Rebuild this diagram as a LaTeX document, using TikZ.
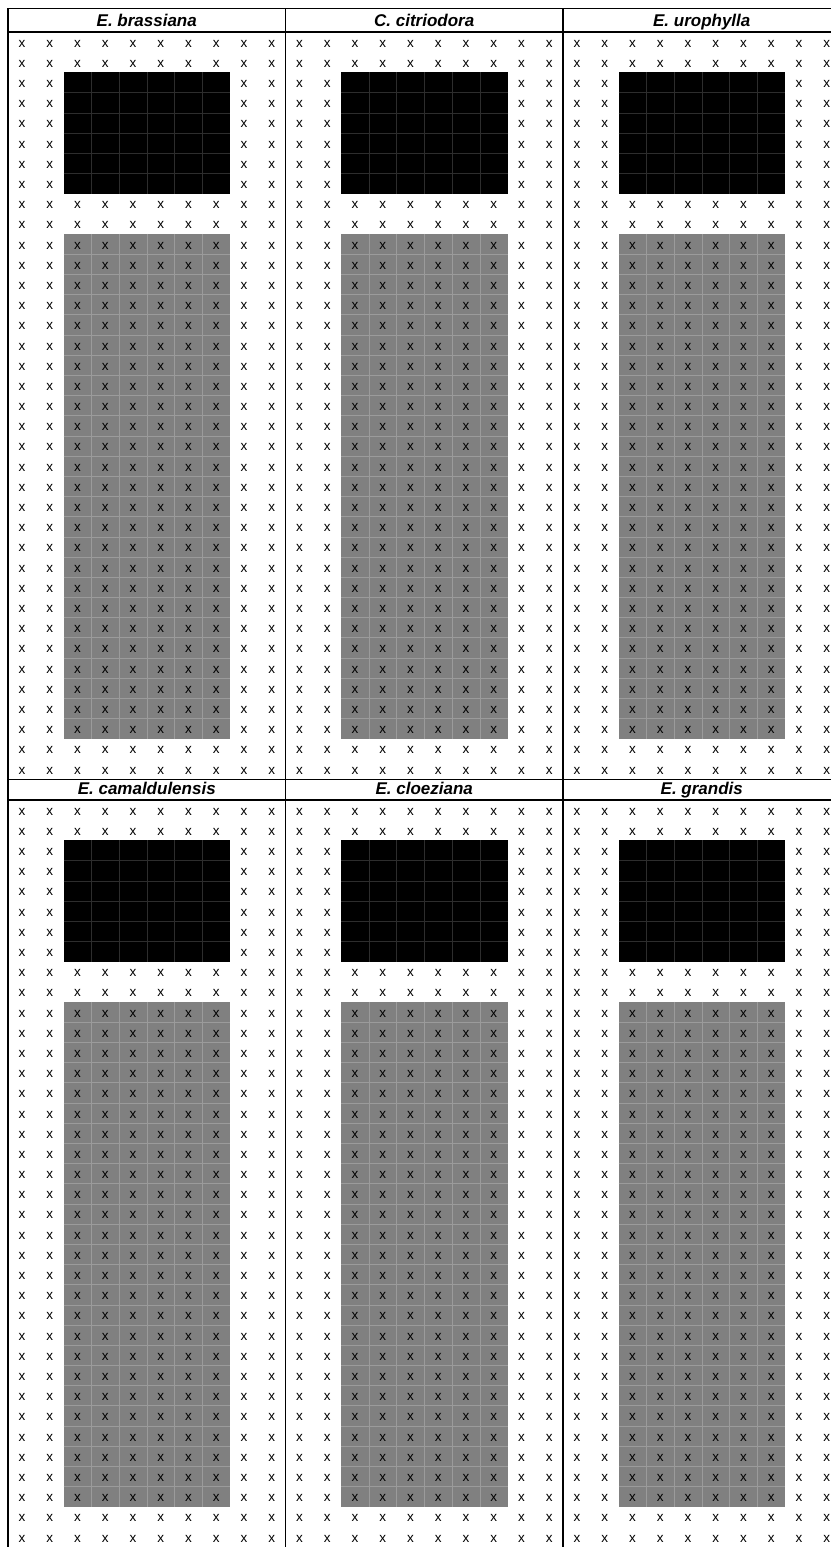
\documentclass[tikz,border=0pt]{standalone}
\usepackage{fontspec}
\setmainfont{Liberation Sans}
\begin{document}
\begin{tikzpicture}[x=1pt, y=-1pt,
    cross/.style={inner sep=0pt, font=\fontsize{13.5}{13.5}\selectfont},
    species/.style={inner sep=0pt, anchor=base, font=\fontsize{17}{17}\selectfont\bfseries\itshape},
    rule/.style={line width=1.4pt},
    darkseam/.style={line width=0.5pt, draw={rgb,255:red,45;green,45;blue,45}},
    lightseam/.style={line width=0.5pt, draw={rgb,255:red,155;green,155;blue,155}}
]
    \useasboundingbox (0,0) rectangle (830,1547);

    % panel: column i, row j, top line T, title bottom G
    \foreach \i/\j/\T/\G/\name in {0/0/8/32/E. brassiana, 1/0/8/32/C. citriodora, 2/0/8/32/E. urophylla,
                                   0/1/779/800/E. camaldulensis, 1/1/779/800/E. cloeziana, 2/1/779/800/E. grandis} {
        \pgfmathsetmacro{\L}{8+277.5*\i}

        % blocks
        \fill[black] ({\L+2*27.75}, {\G+2*20.19}) rectangle ({\L+8*27.75}, {\G+8*20.19});
        \fill[gray] ({\L+2*27.75}, {\G+10*20.19}) rectangle ({\L+8*27.75}, {\G+35*20.19});
        \foreach \k in {3,...,7} {
            \draw[darkseam] ({\L+\k*27.75}, {\G+2*20.19}) -- ({\L+\k*27.75}, {\G+8*20.19});
            \draw[lightseam] ({\L+\k*27.75}, {\G+10*20.19}) -- ({\L+\k*27.75}, {\G+35*20.19});
        }
        \foreach \k in {3,...,7}
            \draw[darkseam] ({\L+2*27.75}, {\G+\k*20.19}) -- ({\L+8*27.75}, {\G+\k*20.19});
        \foreach \k in {11,...,34}
            \draw[lightseam] ({\L+2*27.75}, {\G+\k*20.19}) -- ({\L+8*27.75}, {\G+\k*20.19});

        % crosses
        \foreach \c in {0,...,9} {
            \foreach \r in {0,...,36} {
                \pgfmathtruncatemacro{\hidden}{(\c>1)&&(\c<8)&&(\r>1)&&(\r<8)}
                \ifnum\hidden=0
                    \node[cross] (x-\i-\j-\c-\r) at ({\L+(\c+0.5)*27.75}, {\G+(\r+0.5)*20.19+1.5}) {x};
                \fi
            }
        }

        \node[species] (title-\i-\j) at ({\L+138.75}, {\G-5.5}) {\name};
        \draw[line width=0.8pt] (\L, \T) -- ({\L+277.5}, \T);
        \draw[rule] (\L, \G) -- ({\L+277.5}, \G);
    }

    % panel dividers
    \foreach \i in {0,1,2}
        \draw[rule] ({8+277.5*\i}, 8) -- ({8+277.5*\i}, 1547);
\end{tikzpicture}
\end{document}
